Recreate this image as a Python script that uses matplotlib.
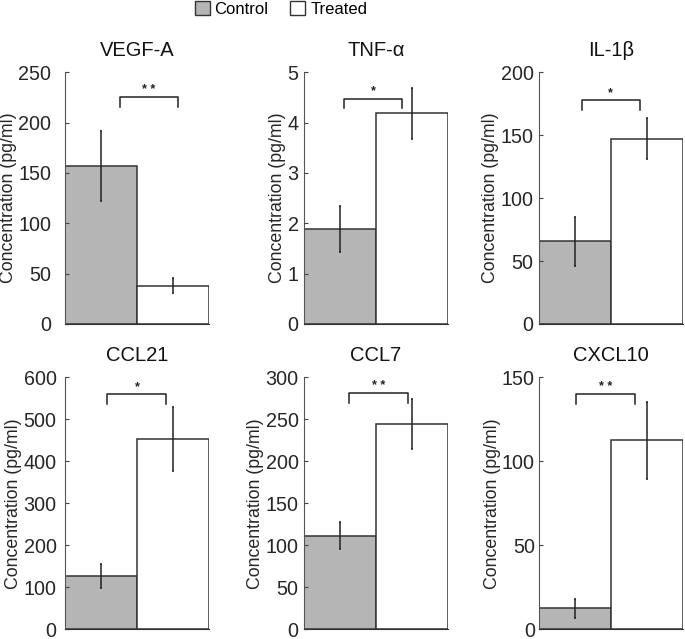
import numpy as np
import matplotlib
matplotlib.use('Agg')
import matplotlib.pyplot as plt
from matplotlib.patches import Patch

plt.rcParams['font.family'] = ['Liberation Sans', 'DejaVu Sans']

# values
titles = ['VEGF-A', 'TNF-\u03b1', 'IL-1\u03b2', 'CCL21', 'CCL7', 'CXCL10']
control = [157, 1.89, 65.6, 126, 111.5, 12.4]
control_err = [35, 0.46, 19.6, 29, 16, 5.6]
treated = [38.2, 4.18, 147.3, 453, 244, 112.5]
treated_err = [7.5, 0.51, 16, 76, 29.7, 23]
ymax = [250, 5, 200, 600, 300, 150]
ystep = [50, 1, 50, 100, 50, 50]
# significance bracket: level, leg end, x start, x end, stars
br_y = [225, 4.47, 177.6, 560, 281, 140]
br_leg = [215, 4.28, 169.7, 536, 270, 134]
br_x0 = [1.26, 1.06, 1.09, 1.09, 1.12, 1.01]
br_x1 = [2.07, 1.86, 1.90, 1.91, 1.95, 1.83]
stars = ['* *', '*', '*', '*', '* *', '* *']
tick_pad = [10, 4, 4, 6, 4, 3]

gray = '#b4b5b4'
edge = '#333333'

fig = plt.figure(figsize=(6.85, 6.39), dpi=100)
lefts = [0.0949, 0.444, 0.787]
rows = [(0.493, 0.394), (0.0155, 0.394)]

for i in range(6):
    r, c = divmod(i, 3)
    ax = fig.add_axes([lefts[c], rows[r][0], 0.210, rows[r][1]])
    ax.bar([1], [control[i]], width=1, color=gray, edgecolor=edge, linewidth=1.1)
    ax.bar([2], [treated[i]], width=1, color='white', edgecolor=edge, linewidth=1.1)
    ax.errorbar([1, 2], [control[i], treated[i]], yerr=[control_err[i], treated_err[i]],
                fmt='none', ecolor='#222222', elinewidth=1.1, capsize=1, capthick=1.1)
    ax.plot([br_x0[i], br_x0[i], br_x1[i], br_x1[i]],
            [br_leg[i], br_y[i], br_y[i], br_leg[i]], color='#222222', lw=1.1)
    ax.text((br_x0[i] + br_x1[i]) / 2, br_y[i] + ymax[i] * 0.005, stars[i],
            ha='center', va='bottom', fontsize=9, fontweight='bold', color='#222222')
    ax.set_xlim(0.5, 2.5)
    ax.set_ylim(0, ymax[i])
    ax.set_yticks(np.arange(0, ymax[i] + ystep[i] / 2, ystep[i]))
    ax.set_xticks([])
    ax.tick_params(axis='y', direction='in', length=3, width=0.8, colors='#444444',
                   labelsize=14.2, labelcolor='#262626', pad=tick_pad[i])
    for s in ['top', 'right']:
        ax.spines[s].set_visible(False)
    ax.spines['left'].set_color('#555555')
    ax.spines['bottom'].set_color(edge)
    ax.set_title(titles[i], fontsize=14.5, color='#111111', pad=12)
    ax.set_ylabel('Concentration (pg/ml)', fontsize=12.8, color='#262626', labelpad=1)

handles = [Patch(facecolor=gray, edgecolor=edge, label='Control'),
           Patch(facecolor='white', edgecolor=edge, label='Treated')]
fig.legend(handles=handles, loc='upper center', bbox_to_anchor=(0.41, 1.022), ncol=2,
           frameon=False, fontsize=12, handlelength=0.9, handleheight=0.95,
           handletextpad=0.3, columnspacing=1.3)

fig.savefig('out.png', dpi=100)
